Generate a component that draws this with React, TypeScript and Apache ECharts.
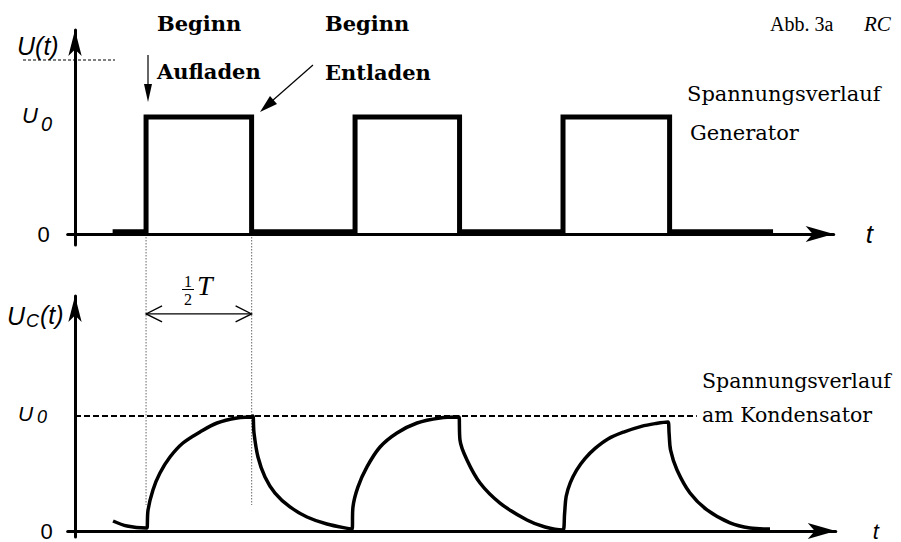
import React, { useEffect, useRef } from 'react';
import * as echarts from 'echarts';

// ---- data (time in units of T/2, voltage in units of U0) ----
const generatorTime = [0.36, 0.68, 0.68, 1.69, 1.69, 2.68, 2.68, 3.68, 3.68, 4.67, 4.67, 5.69, 5.69, 6.68];
const generatorVolt = [0.02, 0.02, 1, 1, 0.02, 0.02, 1, 1, 0.02, 0.02, 1, 1, 0.02, 0.02];

const preTail: [number, number][] = [[0.364, 0.087], [0.498, 0.043], [0.679, 0.026]];
const charge1: [number, number][] = [[0.689, 0.026], [0.699, 0.183], [0.746, 0.357], [0.813, 0.504], [0.909, 0.643], [1.033, 0.765], [1.196, 0.861], [1.359, 0.939], [1.55, 0.983], [1.694, 0.991]];
const discharge1: [number, number][] = [[1.703, 1.0], [1.713, 0.852], [1.751, 0.643], [1.818, 0.47], [1.914, 0.33], [2.057, 0.209], [2.22, 0.122], [2.411, 0.061], [2.651, 0.017]];
const charge2: [number, number][] = [[2.66, 0.209], [2.708, 0.383], [2.794, 0.557], [2.919, 0.73], [3.081, 0.852], [3.273, 0.939], [3.493, 0.983], [3.665, 0.991]];
const discharge2: [number, number][] = [[3.675, 0.991], [3.684, 0.791], [3.751, 0.617], [3.876, 0.417], [4.067, 0.243], [4.325, 0.096], [4.498, 0.035], [4.67, 0.009]];
const charge3: [number, number][] = [[4.685, 0.15], [4.7, 0.3], [4.74, 0.42], [4.8, 0.53], [4.88, 0.63], [4.98, 0.72], [5.1, 0.8], [5.25, 0.86], [5.42, 0.91], [5.56, 0.935], [5.675, 0.948]];
const discharge3: [number, number][] = [[5.685, 0.85], [5.7, 0.7], [5.761, 0.53], [5.885, 0.33], [6.048, 0.183], [6.268, 0.07], [6.459, 0.026], [6.651, 0.017]];

const halfPeriod = [0.68, 1.69]; // start / end of 1/2 T
const halfPeriodArrowLevel = 1.887;
const guideBottomLevel = 0.226;
const u0DashEnd = 5.95;
const zeroTick = [0];

// ---- layout ----
const W = 901;
const H = 542;
const PX_PER_T = 104.5;
const Y_AXIS_X = 75;
const X_MIN = -0.07;
const TOP_X_MAX = 7.26;
const BOT_X_MAX = 7.28;

const SANS = '"Liberation Sans", Arial, sans-serif';
const SERIF = '"DejaVu Serif", serif';
const MATH = '"Liberation Serif", serif';

function txt(text: string, x: number, y: number, o: any = {}) {
  return {
    type: 'text',
    silent: true,
    style: {
      text,
      x,
      y,
      fill: '#000',
      fontFamily: o.family || SERIF,
      fontSize: o.size || 20,
      fontWeight: o.weight || 'normal',
      fontStyle: o.style || 'normal',
      textAlign: o.align || 'left',
      textVerticalAlign: 'middle',
      verticalAlign: 'middle',
    },
  };
}

export default function App() {
  const ref = useRef<HTMLDivElement>(null);
  useEffect(() => {
    document.body.style.margin = '0';
    if (!ref.current) return;
    const chart = echarts.init(ref.current, undefined, { renderer: 'svg' });
    const capData = [...preTail, ...charge1, ...discharge1, ...charge2, ...discharge2, ...charge3, ...discharge3];
    const genData = generatorTime.map((t, i) => [t, generatorVolt[i]]);

    const leftPx = Y_AXIS_X + X_MIN * PX_PER_T;
    const topRight = W - (Y_AXIS_X + TOP_X_MAX * PX_PER_T);
    const botRight = W - (Y_AXIS_X + BOT_X_MAX * PX_PER_T);

    const axisLine = (sym: [number, number]) => ({
      show: true,
      onZero: true,
      symbol: ['none', 'arrow'],
      symbolSize: sym,
      lineStyle: { color: '#000', width: 3 },
    });

    chart.setOption({
      animation: false,
      backgroundColor: '#fff',
      grid: [
        { left: leftPx, right: topRight, top: 30, bottom: H - 245 },
        { left: leftPx, right: botRight, top: 296, bottom: H - 537 },
      ],
      xAxis: [
        {
          type: 'value', gridIndex: 0, min: X_MIN, max: TOP_X_MAX,
          axisLine: axisLine([12, 28]), axisTick: { show: false }, axisLabel: { show: false }, splitLine: { show: false },
          name: 't', nameLocation: 'end', nameGap: 32,
          nameTextStyle: { fontFamily: SANS, fontStyle: 'italic', fontSize: 26, color: '#000', padding: [12, 0, 0, 0] },
        },
        {
          type: 'value', gridIndex: 1, min: X_MIN, max: BOT_X_MAX,
          axisLine: axisLine([12, 28]), axisTick: { show: false }, axisLabel: { show: false }, splitLine: { show: false },
          name: 't', nameLocation: 'end', nameGap: 37,
          nameTextStyle: { fontFamily: SANS, fontStyle: 'italic', fontSize: 22, color: '#000', padding: [0, 0, 4, 0] },
        },
      ],
      yAxis: [
        {
          type: 'value', gridIndex: 0, min: -0.094, max: 1.744,
          axisLine: axisLine([10, 26]), axisTick: { show: false }, splitLine: { show: false },
          axisLabel: { show: true, customValues: zeroTick, formatter: (v: number) => String(v), margin: 18, fontFamily: SANS, fontSize: 22, color: '#000' },
        },
        {
          type: 'value', gridIndex: 1, min: -0.052, max: 2.043,
          axisLine: axisLine([10, 26]), axisTick: { show: false }, splitLine: { show: false },
          axisLabel: { show: true, customValues: zeroTick, formatter: (v: number) => String(v), margin: 15, fontFamily: SANS, fontSize: 22, color: '#000', padding: [0, 0, 2, 0] },
        },
      ],
      series: [
        {
          type: 'line', xAxisIndex: 0, yAxisIndex: 0, data: genData, symbol: 'none', silent: true,
          lineStyle: { color: '#000', width: 5, join: 'miter', cap: 'butt' },
        },
        {
          type: 'line', xAxisIndex: 1, yAxisIndex: 1, data: capData, symbol: 'none', silent: true,
          smooth: 0.35,
          lineStyle: { color: '#000', width: 3.5, join: 'round' },
          markLine: {
            silent: true, symbol: 'none', label: { show: false },
            lineStyle: { color: '#000', width: 1.8, type: [6, 3] },
            data: [[{ coord: [0, 1] }, { coord: [u0DashEnd, 1] }]],
          },
        },
      ],
    });

    const px = (axis: number, v: number) => chart.convertToPixel({ xAxisIndex: axis } as any, v) as number;
    const py = (axis: number, v: number) => chart.convertToPixel({ yAxisIndex: axis } as any, v) as number;

    const g: any[] = [];
    const x1 = px(1, halfPeriod[0]);
    const x2 = px(1, halfPeriod[1]);
    const yTop = py(0, 0);
    const yBot = py(1, guideBottomLevel);
    const yArr = py(1, halfPeriodArrowLevel);
    const dotted = { stroke: '#808080', lineWidth: 1.2, lineDash: [1.5, 1.5] };
    g.push({ type: 'line', silent: true, shape: { x1, y1: yTop, x2: x1, y2: yBot }, style: dotted });
    g.push({ type: 'line', silent: true, shape: { x1: x2, y1: yTop, x2: x2, y2: yBot }, style: dotted });
    const arrowStyle = { stroke: '#000', lineWidth: 1.3, fill: 'none' };
    g.push({ type: 'line', silent: true, shape: { x1, y1: yArr, x2, y2: yArr }, style: arrowStyle });
    g.push({ type: 'polyline', silent: true, shape: { points: [[x1 + 16, yArr - 8], [x1, yArr], [x1 + 16, yArr + 8]] }, style: arrowStyle });
    g.push({ type: 'polyline', silent: true, shape: { points: [[x2 - 16, yArr - 8], [x2, yArr], [x2 - 16, yArr + 8]] }, style: arrowStyle });

    // 1/2 T label
    g.push(txt('1', 188, 281, { family: MATH, size: 16, align: 'center' }));
    g.push({ type: 'line', silent: true, shape: { x1: 182, y1: 289.5, x2: 194, y2: 289.5 }, style: { stroke: '#000', lineWidth: 1 } });
    g.push(txt('2', 188, 299, { family: MATH, size: 16, align: 'center' }));
    g.push(txt('T', 197, 285, { family: MATH, size: 28, style: 'italic' }));

    // axis titles
    g.push({ type: 'line', silent: true, shape: { x1: 23, y1: 60, x2: 115, y2: 60 }, style: { stroke: '#000', lineWidth: 1, lineDash: [3, 2] } });
    g.push(txt('U(t)', 17, 46, { family: SANS, size: 25, style: 'italic' }));
    g.push(txt('U', 7, 316, { family: SANS, size: 25, style: 'italic' }));
    g.push(txt('C', 26, 321, { family: SANS, size: 18, style: 'italic' }));
    g.push(txt('(t)', 40, 315, { family: SANS, size: 25, style: 'italic' }));
    g.push(txt('U', 22, 115, { family: SANS, size: 22, style: 'italic' }));
    g.push(txt('0', 41, 123.5, { family: SANS, size: 20, style: 'italic' }));
    g.push(txt('U', 18, 413, { family: SANS, size: 21, style: 'italic' }));
    g.push(txt('0', 37, 417, { family: SANS, size: 18, style: 'italic' }));

    // annotations
    g.push(txt('Beginn', 157, 23, { size: 21, weight: 'bold' }));
    g.push(txt('Aufladen', 157, 71.5, { size: 21, weight: 'bold' }));
    g.push(txt('Beginn', 325, 23, { size: 21, weight: 'bold' }));
    g.push(txt('Entladen', 325, 72, { size: 21, weight: 'bold' }));
    g.push({ type: 'line', silent: true, shape: { x1: 148, y1: 55, x2: 148, y2: 86 }, style: { stroke: '#000', lineWidth: 1.2 } });
    g.push({ type: 'polygon', silent: true, shape: { points: [[144, 84], [152, 84], [148, 102]] }, style: { fill: '#000' } });
    g.push({ type: 'line', silent: true, shape: { x1: 313, y1: 65, x2: 272, y2: 101 }, style: { stroke: '#000', lineWidth: 1.2 } });
    g.push({ type: 'polygon', silent: true, shape: { points: [[260, 112], [277, 104], [270, 96]] }, style: { fill: '#000' } });

    g.push(txt('Abb. 3a', 770, 23.5, { family: MATH, size: 20 }));
    g.push(txt('RC', 864, 23.5, { family: MATH, size: 21, style: 'italic' }));
    g.push(txt('Spannungsverlauf', 687, 94, { size: 21 }));
    g.push(txt('Generator', 690, 132.5, { size: 21 }));
    g.push(txt('Spannungsverlauf', 702, 381, { size: 20.5 }));
    g.push(txt('am Kondensator', 702, 415, { size: 20.5 }));

    chart.setOption({ graphic: g });
    return () => chart.dispose();
  }, []);
  return <div ref={ref} style={{ width: W, height: H }} />;
}
